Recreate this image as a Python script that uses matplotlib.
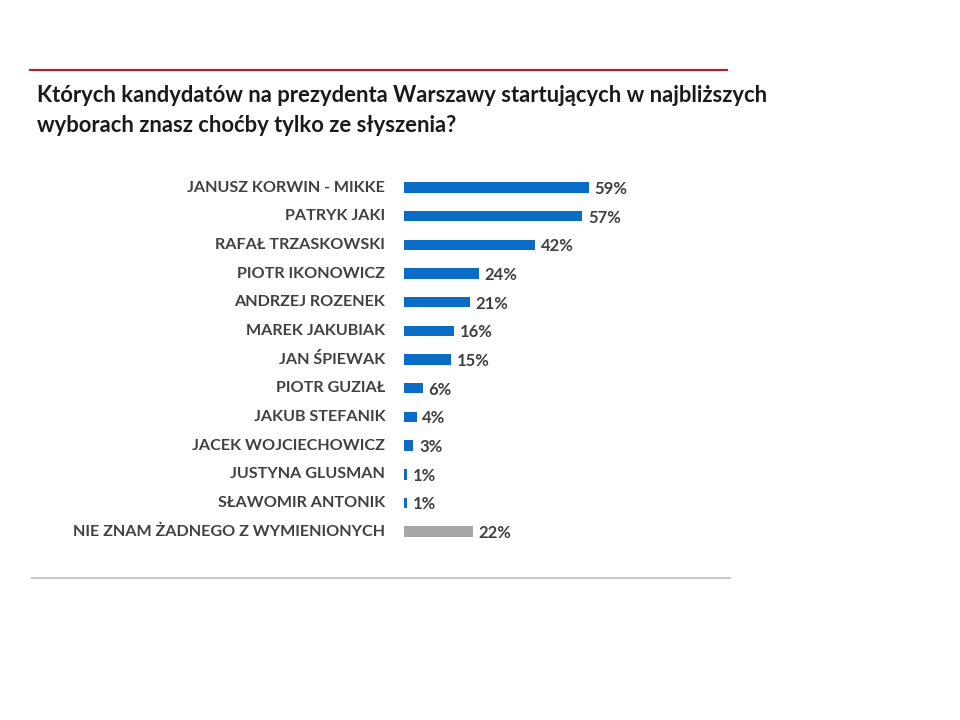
import matplotlib.pyplot as plt
from matplotlib.lines import Line2D

# --- Data ---
labels = [
    "JANUSZ KORWIN - MIKKE", "PATRYK JAKI", "RAFAŁ TRZASKOWSKI",
    "PIOTR IKONOWICZ", "ANDRZEJ ROZENEK", "MAREK JAKUBIAK", "JAN ŚPIEWAK",
    "PIOTR GUZIAŁ", "JAKUB STEFANIK", "JACEK WOJCIECHOWICZ",
    "JUSTYNA GLUSMAN", "SŁAWOMIR ANTONIK", "NIE ZNAM ŻADNEGO Z WYMIENIONYCH",
]
values = [59, 57, 42, 24, 21, 16, 15, 6, 4, 3, 1, 1, 22]
value_labels = ["59%", "57%", "42%", "24%", "21%", "16%", "15%",
                "6%", "4%", "3%", "1%", "1%", "22%"]
bar_colors = ["#0a6cc4"] * 12 + ["#a6a6a6"]

title = ("Których kandydatów na prezydenta Warszawy startujących w najbliższych\n"
         "wyborach znasz choćby tylko ze słyszenia?")

plt.rcParams['font.family'] = ['Lato', 'DejaVu Sans']

W, H = 960, 720
fig = plt.figure(figsize=(W / 100, H / 100), dpi=100)

# Decorative rules
fig.add_artist(Line2D([30 / W, 727 / W], [1 - 70 / H, 1 - 70 / H],
                      color="#9e2a3a", lw=1.6))
fig.add_artist(Line2D([32 / W, 730 / W], [1 - 578 / H, 1 - 578 / H],
                      color="#c8c8c8", lw=1.4))

# Title
fig.text(37 / W, 1 - 85 / H, title, ha="left", va="top",
         fontsize=15.8, fontweight="bold", color="#1a1a1a", linespacing=1.5)

# --- Bars ---
row = 28.67
top = 187.5 - row / 2
n = len(values)
ax = fig.add_axes([404 / W, 1 - (top + n * row) / H, 313 / W, n * row / H])
ypos = list(range(n))
ax.barh(ypos, values, height=0.37, color=bar_colors, linewidth=0)
ax.set_xlim(0, 100)
ax.set_ylim(n - 0.5, -0.5)
ax.axis("off")

for y, v, t in zip(ypos, values, value_labels):
    ax.text(v + 1.8, y + 0.05, t, ha="left", va="center", fontsize=12,
            fontweight="bold", color="#404040")
    ax.text(-6, y, labels[y], ha="right", va="center", fontsize=11.6,
            fontweight="bold", color="#404040")

fig.savefig("out.png", dpi=100, facecolor="white")
